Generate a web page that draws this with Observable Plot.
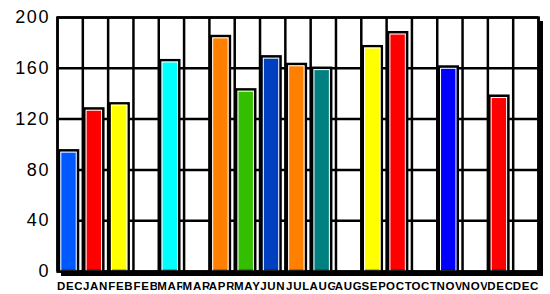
<!DOCTYPE html>
<html>
<head>
<meta charset="utf-8">
<script src="https://cdn.jsdelivr.net/npm/d3@7"></script>
<script src="https://cdn.jsdelivr.net/npm/@observablehq/plot@0.6"></script>
<style>
  html, body { margin: 0; padding: 0; background: #fff; }
  #chart svg { display: block; }
  .yax text { letter-spacing: 1.6px; }
  .xlab text { letter-spacing: 0.7px; }
</style>
</head>
<body>
<div id="chart"></div>
<script>
const months = ["DEC","JAN","FEB","FEB","MAR","MAR","APR","MAY","JUN","JUL","AUG","AUG","SEP","OCT","OCT","NOV","NOV","DEC","DEC"];
const values = [95,128,132,null,166,null,185,143,169,163,160,null,177,188,null,161,null,138,null];
const colors = ["#0058ff","#ff0000","#ffff00",null,"#00ffff",null,"#ff8000","#33bf00","#0040c0","#ff8000","#008080",null,"#ffff00","#ff0000",null,"#0000ff",null,"#ff0000",null];
const yTicks = [0,40,80,120,160,200];

const slots = months.map((m, i) => ({i, m, v: values[i], c: colors[i]}));
const bars = slots.filter(d => d.v != null);

const chart = Plot.plot({
  width: 550,
  height: 294,
  marginLeft: 57,
  marginRight: 12,
  marginTop: 17,
  marginBottom: 23,
  style: {fontFamily: "'Liberation Sans', Arial, sans-serif", background: "#fff", color: "#000"},
  x: {domain: [0, months.length], axis: null},
  y: {domain: [0, 200], axis: null},
  marks: [
    Plot.frame({fill: "black", stroke: "black", dx: 4, dy: 4}),
    Plot.frame({fill: "white"}),
    Plot.ruleY(yTicks, {stroke: "black", strokeWidth: 2.5}),
    Plot.ruleX(d3.range(months.length + 1), {stroke: "black", strokeWidth: 2.5}),
    Plot.rectY(bars, {x1: "i", x2: d => d.i + 1, y: "v", fill: "c", stroke: "black", strokeWidth: 2.5, insetLeft: 2, insetRight: 4.3}),
    Plot.rectY(bars, {x1: "i", x2: d => d.i + 1, y: "v", fill: "none", stroke: "white", strokeWidth: 1, insetLeft: 3.8, insetRight: 6.1, insetTop: 1.8}),
    Plot.frame({stroke: "black", strokeWidth: 2.5}),
    Plot.axisY({ticks: yTicks, tickSize: 0, tickPadding: 7.5, fontSize: 18, label: null, className: "yax"}),
    Plot.text(slots, {x: d => d.i + 0.5, frameAnchor: "bottom", text: "m", dy: 14.5, lineAnchor: "middle", fontSize: 11.5, fontWeight: "bold", fill: "black", stroke: "white", strokeWidth: 2, className: "xlab"})
  ]
});
document.getElementById("chart").append(chart);
</script>
</body>
</html>
